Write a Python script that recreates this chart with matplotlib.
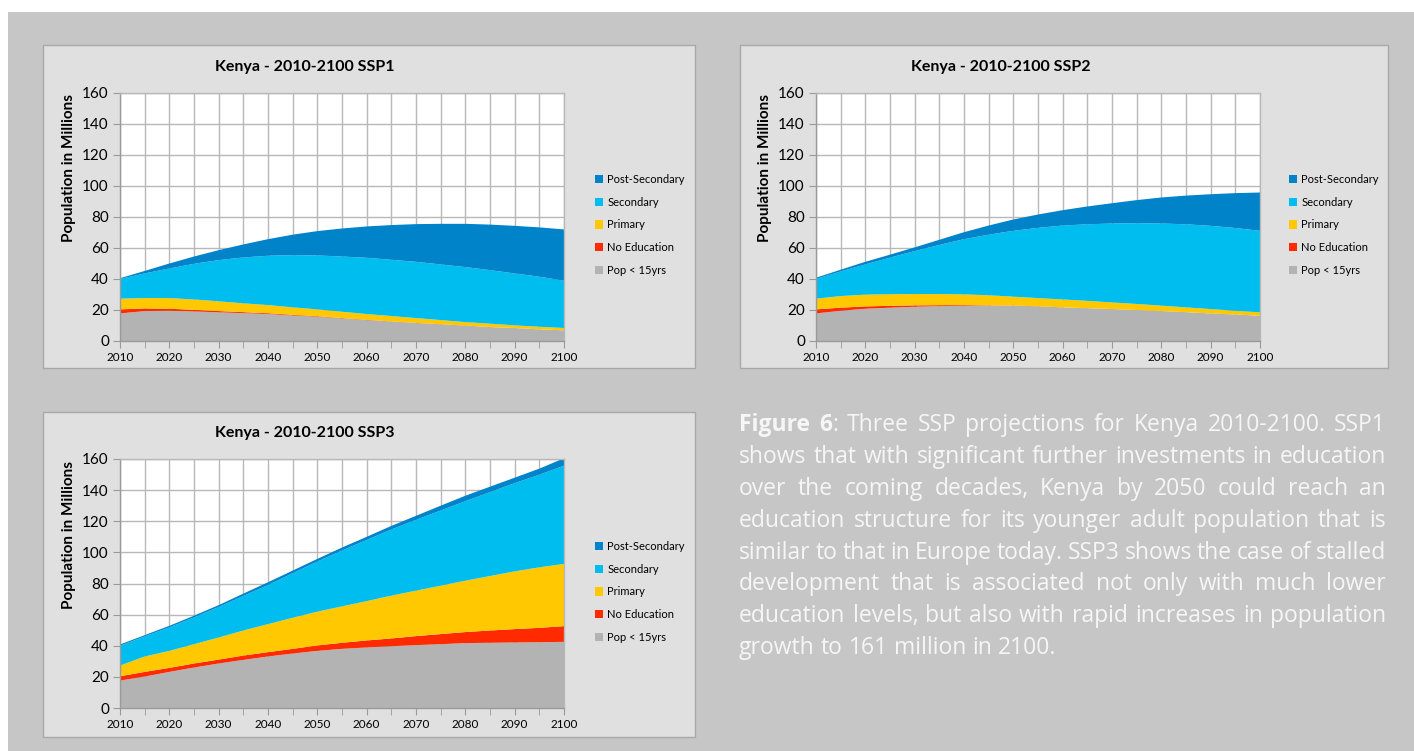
"""
Kenya education projections 2010-2100 under SSP1, SSP2 and SSP3,
three stacked area panels plus a justified caption block.
"""
import matplotlib
matplotlib.use("Agg")
import matplotlib.pyplot as plt
from matplotlib.patches import Patch, Rectangle

plt.rcParams["font.family"] = ["Lato", "DejaVu Sans"]

# ── Data (millions, 5-year steps) ─────────────────────────────────────────────

years = [2010, 2015, 2020, 2025, 2030, 2035, 2040, 2045, 2050, 2055,
         2060, 2065, 2070, 2075, 2080, 2085, 2090, 2095, 2100]

categories = ["Pop < 15yrs", "No Education", "Primary", "Secondary", "Post-Secondary"]

ssp1_pop15     = [17.8, 19.3, 19.5, 19.1, 18.5, 18.0, 17.4, 16.5, 15.7, 14.6,
                  13.5, 12.5, 11.6, 10.7, 9.9, 9.0, 8.4, 7.5, 6.9]
ssp1_noedu     = [2.6, 1.7, 1.3, 1.0, 0.8, 0.6, 0.5, 0.4, 0.3, 0.2,
                  0.2, 0.1, 0.1, 0.1, 0.1, 0.0, 0.0, 0.0, 0.0]
ssp1_primary   = [6.9, 6.7, 6.9, 6.7, 6.3, 5.7, 5.3, 4.8, 4.4, 4.1,
                  3.7, 3.5, 3.1, 2.7, 2.2, 2.2, 1.7, 1.7, 1.5]
ssp1_secondary = [12.7, 15.9, 19.1, 23.0, 26.6, 29.6, 31.8, 33.7, 34.8, 35.6,
                  36.3, 36.3, 36.3, 35.9, 35.5, 34.5, 33.5, 32.3, 30.5]
ssp1_post      = [0.5, 1.6, 3.2, 4.7, 6.4, 8.4, 10.7, 13.2, 15.7, 18.1,
                  20.2, 22.4, 24.3, 26.2, 27.9, 29.4, 30.7, 31.8, 33.1]

ssp2_pop15     = [17.8, 19.5, 20.8, 21.5, 22.1, 22.5, 22.8, 22.8, 22.8, 22.3,
                  21.7, 21.2, 20.6, 20.0, 19.3, 18.6, 17.8, 17.1, 16.3]
ssp2_noedu     = [2.6, 2.0, 1.5, 1.2, 0.9, 0.6, 0.4, 0.2, 0.1, 0.1,
                  0.0, 0.0, 0.0, 0.0, 0.0, 0.0, 0.0, 0.0, 0.0]
ssp2_primary   = [6.9, 7.5, 7.6, 7.5, 7.3, 7.2, 6.9, 6.5, 5.7, 5.3,
                  5.1, 4.7, 4.3, 3.9, 3.5, 3.1, 2.8, 2.4, 2.2]
ssp2_secondary = [12.7, 15.9, 19.5, 23.6, 27.7, 31.7, 35.6, 39.1, 42.5, 45.3,
                  47.7, 49.4, 50.9, 52.1, 53.0, 53.6, 53.7, 53.4, 52.6]
ssp2_post      = [0.8, 1.1, 1.7, 1.9, 2.4, 3.3, 4.5, 5.9, 7.3, 8.6,
                  9.9, 11.5, 13.1, 14.9, 16.8, 18.5, 20.4, 22.5, 24.7]

ssp3_pop15     = [17.6, 20.2, 23.2, 26.0, 28.6, 30.9, 33.1, 35.0, 36.7, 38.0,
                  38.9, 39.7, 40.4, 41.0, 41.7, 41.9, 42.1, 42.3, 42.5]
ssp3_noedu     = [2.8, 3.0, 2.6, 2.6, 2.5, 2.8, 2.8, 3.0, 3.5, 3.9,
                  4.5, 5.0, 5.8, 6.5, 7.1, 7.9, 8.6, 9.2, 10.1]
ssp3_primary   = [6.9, 9.9, 10.9, 12.4, 14.2, 16.1, 18.0, 20.0, 21.7, 23.4,
                  25.3, 27.5, 29.2, 31.1, 33.0, 35.0, 37.1, 38.9, 40.0]
ssp3_secondary = [12.7, 12.9, 15.1, 17.2, 19.6, 22.2, 25.1, 28.6, 32.2, 35.9,
                  39.3, 42.5, 45.5, 48.3, 51.1, 53.9, 56.7, 59.5, 63.1]
ssp3_post      = [0.8, 0.8, 1.0, 1.1, 1.2, 1.5, 1.8, 1.7, 1.7, 1.9,
                  2.0, 2.3, 2.6, 3.1, 3.5, 3.5, 3.5, 3.9, 4.8]

caption_lines = [
    "Figure 6: Three SSP projections for Kenya 2010-2100. SSP1",
    "shows that with significant further investments in education",
    "over the coming decades, Kenya by 2050 could reach an",
    "education structure for its younger adult population that is",
    "similar to that in Europe today. SSP3 shows the case of stalled",
    "development that is associated not only with much lower",
    "education levels, but also with rapid increases in population",
    "growth to 161 million in 2100.",
]
caption_bold = "Figure 6"

# ── Styling ───────────────────────────────────────────────────────────────────

COLORS = ["#b3b3b3", "#ff2a00", "#ffc800", "#00bdf0", "#0083c9"]
W, H = 1414, 751
BG_OUTER = "#c6c6c6"
BG_PANEL = "#e0e0e0"
GRID = "#b8b8b8"


def fx(px):
    return px / W


def fy(py):
    return 1 - py / H


def box(x0, y0, x1, y1):
    # pixel box (top-left origin) -> figure fraction [left, bottom, w, h]
    return [fx(x0), fy(y1), (x1 - x0) / W, (y1 - y0) / H]


fig = plt.figure(figsize=(W / 100, H / 100), dpi=100, facecolor="white")

fig.patches.append(Rectangle((fx(8), 0), 1 - fx(8), fy(12), transform=fig.transFigure,
                             facecolor=BG_OUTER, edgecolor="none", zorder=-10))

panels = [
    # (series, panel box, axes box, title, title pos, ylabel pos, legend pos)
    ("SSP1", [ssp1_pop15, ssp1_noedu, ssp1_primary, ssp1_secondary, ssp1_post],
     (43, 45, 695, 368), (120, 93, 564, 341), (305, 67), (69, 168), (595, 174)),
    ("SSP2", [ssp2_pop15, ssp2_noedu, ssp2_primary, ssp2_secondary, ssp2_post],
     (740, 45, 1388, 368), (816, 93, 1260, 341), (1001, 67), (765, 168), (1289, 174)),
    ("SSP3", [ssp3_pop15, ssp3_noedu, ssp3_primary, ssp3_secondary, ssp3_post],
     (43, 412, 695, 737), (120, 459, 564, 708), (305, 433), (69, 535), (595, 541)),
]

for name, series, pbox, abox, tpos, ylpos, lpos in panels:
    x0, y0, x1, y1 = pbox
    fig.patches.append(Rectangle((fx(x0), fy(y1)), (x1 - x0) / W, (y1 - y0) / H,
                                 transform=fig.transFigure, facecolor=BG_PANEL,
                                 edgecolor="#a8a8a8", linewidth=1.0, zorder=-5))

    ax = fig.add_axes(box(*abox))
    ax.set_facecolor("white")
    ax.stackplot(years, *series, colors=COLORS, labels=categories, linewidth=0)

    ax.set_xlim(2010, 2100)
    ax.set_ylim(0, 160)
    ax.set_xticks(range(2010, 2101, 10))
    ax.set_xticks(years, minor=True)
    ax.set_yticks(range(0, 161, 20))
    ax.set_axisbelow(True)
    ax.grid(True, which="both", color=GRID, linewidth=1.0)
    ax.tick_params(axis="y", labelsize=11, length=5, color="#999999", pad=3)
    ax.tick_params(axis="x", which="both", labelsize=8.5, length=5, color="#999999", pad=3)
    for side, sp in ax.spines.items():
        sp.set_color("#9a9a9a" if side in ("left", "bottom") else GRID)
        sp.set_linewidth(1.0)

    fig.text(fx(tpos[0]), fy(tpos[1]), f"Kenya - 2010-2100 {name}",
             ha="center", va="center", fontsize=11.5, fontweight="bold")
    fig.text(fx(ylpos[0]), fy(ylpos[1]), "Population in Millions", rotation=90,
             ha="center", va="center", fontsize=11, fontweight="bold")

    handles = [Patch(facecolor=c, edgecolor="none") for c in COLORS][::-1]
    ax.legend(handles, categories[::-1], loc="upper left",
              bbox_to_anchor=(fx(lpos[0]), fy(lpos[1])), bbox_transform=fig.transFigure,
              frameon=False, fontsize=8, handlelength=0.75, handleheight=0.75,
              handletextpad=0.35, labelspacing=1.05, borderpad=0, borderaxespad=0)

# ── Justified caption ─────────────────────────────────────────────────────────

renderer = fig.canvas.get_renderer()
CAP_FONT = ["Open Sans", "DejaVu Sans"]
CAP_SIZE = 16.5
CAP_COLOR = "#f6f6f6"
CAP_LEFT, CAP_RIGHT = 739, 1386
CAP_TOP, CAP_STEP = 431, 31.9


def text_width(s, weight="normal"):
    t = fig.text(0, 0, s, fontsize=CAP_SIZE, fontweight=weight, family=CAP_FONT)
    w = t.get_window_extent(renderer).width
    t.remove()
    return w


space_w = text_width("a a") - 2 * text_width("a")

for i, line in enumerate(caption_lines):
    bold_len = len(caption_bold) if i == 0 else 0
    words = line.split(" ")
    # each word becomes a list of (text, weight) segments
    tokens = []
    pos = 0
    for w in words:
        segs = []
        b = max(0, min(len(w), bold_len - pos))
        if b:
            segs.append((w[:b], "bold"))
        if w[b:]:
            segs.append((w[b:], "normal"))
        tokens.append([(s, wt, text_width(s, wt)) for s, wt in segs])
        pos += len(w) + 1
    widths = [sum(s[2] for s in tok) for tok in tokens]
    last = i == len(caption_lines) - 1
    gap = space_w if last else (CAP_RIGHT - CAP_LEFT - sum(widths)) / (len(tokens) - 1)
    x = CAP_LEFT
    y = CAP_TOP + i * CAP_STEP
    for tok, tw in zip(tokens, widths):
        sx = x
        for s, wt, sw in tok:
            fig.text(fx(sx), fy(y), s, fontsize=CAP_SIZE, fontweight=wt,
                     family=CAP_FONT, color=CAP_COLOR, ha="left", va="baseline")
            sx += sw
        x += tw + gap

fig.savefig("out.png", dpi=100, facecolor=fig.get_facecolor())
